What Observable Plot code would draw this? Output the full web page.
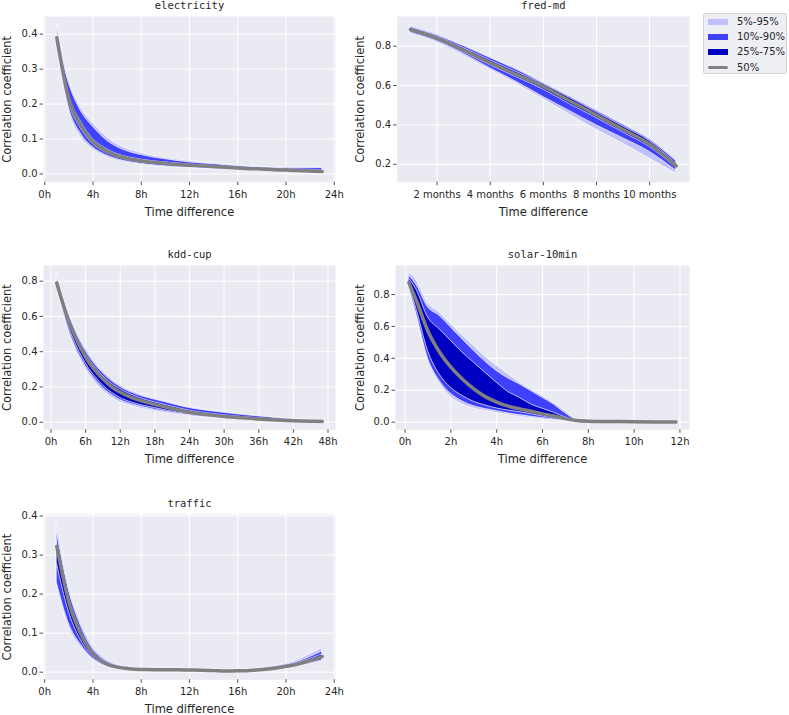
<!DOCTYPE html>
<html><head><meta charset="utf-8">
<script src="https://cdn.jsdelivr.net/npm/d3@7"></script>
<script src="https://cdn.jsdelivr.net/npm/@observablehq/plot@0.6"></script>
<style>
body{margin:0;background:#fff;}
#root{position:relative;width:789px;height:715px;overflow:hidden;font-family:"DejaVu Sans",sans-serif;}
#root svg{position:absolute;overflow:visible;}
#legend{position:absolute;left:703px;top:13px;width:84px;height:61px;background:#EEEEF5;border:1px solid #D6D6D6;border-radius:2px;box-sizing:border-box;}
.lrow{position:absolute;left:0;height:14px;width:84px;font-size:10px;color:#262626;}
.lsw{position:absolute;left:4px;width:20px;}
.ltx{position:absolute;left:33px;top:0;line-height:14px;}
</style></head><body><div id="root"><div id="legend"></div></div>
<script>
// ---------------- data ----------------
const bandLabels = ["5%-95%", "10%-90%", "25%-75%", "50%"];
const bandColors = ["#C0C0FF", "#4040FF", "#0000C0", "#808080"];

// electricity (hours)
const elecX   = [1,2,3,4,5,6,7,8,9,10,11,12,13,14,15,16,17,18,19,20,21,22,23];
const elecQ05 = [0.37,0.18,0.105,0.07,0.05,0.038,0.031,0.026,0.022,0.019,0.017,0.016,0.014,0.013,0.012,0.011,0.010,0.009,0.008,0.007,0.006,0.005,0.004];
const elecQ10 = [0.375,0.19,0.115,0.076,0.055,0.042,0.034,0.029,0.025,0.022,0.020,0.018,0.016,0.015,0.014,0.013,0.011,0.010,0.009,0.008,0.007,0.006,0.005];
const elecQ25 = [0.385,0.205,0.13,0.085,0.062,0.048,0.039,0.034,0.030,0.027,0.025,0.023,0.021,0.019,0.017,0.015,0.014,0.012,0.011,0.010,0.009,0.007,0.006];
const elecQ50 = [0.39,0.215,0.14,0.092,0.068,0.052,0.043,0.037,0.033,0.030,0.027,0.025,0.023,0.021,0.019,0.017,0.015,0.014,0.012,0.011,0.010,0.008,0.007];
const elecQ75 = [0.395,0.225,0.15,0.10,0.074,0.057,0.047,0.041,0.036,0.033,0.030,0.027,0.025,0.023,0.021,0.019,0.017,0.015,0.014,0.013,0.012,0.011,0.010];
const elecQ90 = [0.40,0.26,0.18,0.135,0.10,0.077,0.063,0.054,0.047,0.042,0.037,0.033,0.030,0.028,0.025,0.022,0.020,0.018,0.017,0.016,0.016,0.016,0.017];
const elecQ95 = [0.43,0.27,0.19,0.145,0.11,0.085,0.07,0.06,0.052,0.046,0.041,0.037,0.033,0.030,0.027,0.024,0.022,0.020,0.019,0.018,0.018,0.018,0.019];

// fred-md (months)
const fredX   = [1,2,3,4,5,6,7,8,9,10,11];
const fredQ05 = [0.862,0.818,0.752,0.68,0.608,0.53,0.452,0.375,0.305,0.229,0.152];
const fredQ10 = [0.87,0.825,0.762,0.688,0.618,0.542,0.47,0.398,0.332,0.263,0.168];
const fredQ25 = [0.878,0.832,0.77,0.703,0.642,0.58,0.505,0.435,0.362,0.288,0.182];
const fredQ50 = [0.885,0.84,0.78,0.715,0.655,0.595,0.522,0.45,0.377,0.302,0.192];
const fredQ75 = [0.89,0.848,0.79,0.728,0.668,0.607,0.537,0.465,0.392,0.318,0.20];
const fredQ90 = [0.897,0.855,0.80,0.74,0.68,0.612,0.543,0.472,0.40,0.325,0.215];
const fredQ95 = [0.905,0.862,0.806,0.745,0.685,0.618,0.548,0.478,0.406,0.332,0.225];

// kdd-cup (hours)
const kddX   = [1,2,3,4,5,6,7,8,9,10,11,12,14,16,18,20,22,24,27,30,33,36,39,42,45,47];
const kddQ05 = [0.77,0.635,0.52,0.43,0.36,0.30,0.252,0.212,0.18,0.152,0.13,0.113,0.09,0.074,0.061,0.051,0.042,0.034,0.025,0.018,0.013,0.009,0.006,0.003,0.002,0.001];
const kddQ10 = [0.775,0.645,0.53,0.445,0.375,0.318,0.27,0.23,0.196,0.167,0.145,0.126,0.102,0.085,0.071,0.059,0.049,0.04,0.029,0.021,0.016,0.011,0.007,0.004,0.003,0.002];
const kddQ25 = [0.78,0.66,0.55,0.465,0.395,0.335,0.285,0.245,0.21,0.18,0.158,0.138,0.112,0.094,0.08,0.067,0.055,0.045,0.033,0.025,0.018,0.013,0.009,0.006,0.004,0.003];
const kddQ50 = [0.79,0.68,0.58,0.50,0.43,0.37,0.32,0.28,0.245,0.215,0.19,0.17,0.14,0.118,0.10,0.085,0.07,0.056,0.043,0.033,0.025,0.018,0.013,0.009,0.006,0.004];
const kddQ75 = [0.80,0.695,0.595,0.515,0.447,0.387,0.337,0.297,0.262,0.232,0.207,0.187,0.155,0.13,0.112,0.096,0.08,0.065,0.05,0.039,0.03,0.022,0.016,0.011,0.007,0.005];
const kddQ90 = [0.81,0.71,0.615,0.535,0.465,0.405,0.355,0.313,0.278,0.248,0.222,0.20,0.168,0.145,0.128,0.112,0.095,0.08,0.065,0.053,0.042,0.033,0.024,0.016,0.01,0.007];
const kddQ95 = [0.845,0.725,0.63,0.55,0.48,0.42,0.37,0.325,0.29,0.26,0.232,0.21,0.177,0.152,0.134,0.118,0.1,0.085,0.07,0.057,0.046,0.036,0.027,0.019,0.012,0.009];

// solar-10min (hours)
const solarX   = [0.167,0.5,1,1.5,2,2.5,3,3.5,4,4.5,5,5.5,6,6.5,7,7.5,8,9,10,11,11.83];
const solarQ05 = [0.835,0.66,0.384,0.245,0.157,0.112,0.086,0.07,0.057,0.045,0.033,0.025,0.017,0.011,0.006,0.003,0.002,0.001,0.001,0.0,0.0];
const solarQ10 = [0.845,0.678,0.40,0.26,0.178,0.13,0.10,0.082,0.069,0.055,0.044,0.034,0.025,0.017,0.01,0.005,0.003,0.002,0.001,0.001,0.0];
const solarQ25 = [0.86,0.71,0.447,0.30,0.216,0.165,0.128,0.105,0.086,0.073,0.063,0.05,0.036,0.025,0.015,0.007,0.004,0.003,0.002,0.001,0.001];
const solarQ50 = [0.875,0.76,0.57,0.44,0.345,0.27,0.208,0.16,0.126,0.1,0.083,0.068,0.052,0.038,0.022,0.01,0.006,0.004,0.002,0.001,0.001];
const solarQ75 = [0.90,0.83,0.657,0.583,0.51,0.437,0.374,0.31,0.248,0.19,0.153,0.111,0.084,0.059,0.03,0.011,0.006,0.004,0.003,0.002,0.001];
const solarQ90 = [0.92,0.86,0.72,0.667,0.594,0.52,0.447,0.38,0.321,0.275,0.237,0.195,0.153,0.11,0.055,0.015,0.007,0.005,0.003,0.002,0.002];
const solarQ95 = [0.94,0.89,0.745,0.688,0.615,0.545,0.478,0.41,0.353,0.30,0.248,0.205,0.164,0.12,0.069,0.018,0.008,0.005,0.004,0.003,0.003];

// traffic (hours)
const trafX   = [1,2,3,4,5,6,7,8,9,10,11,12,13,14,15,16,17,18,19,20,21,22,23];
const trafQ05 = [0.22,0.115,0.064,0.032,0.015,0.008,0.006,0.0045,0.004,0.0035,0.0035,0.003,0.0025,0.0015,0.001,0.0015,0.0025,0.0045,0.007,0.01,0.014,0.02,0.027];
const trafQ10 = [0.23,0.125,0.07,0.035,0.017,0.009,0.007,0.005,0.0045,0.004,0.004,0.0035,0.003,0.002,0.0015,0.002,0.003,0.005,0.008,0.011,0.016,0.023,0.03];
const trafQ25 = [0.28,0.155,0.082,0.04,0.02,0.011,0.008,0.006,0.0055,0.005,0.005,0.0045,0.004,0.003,0.0025,0.003,0.004,0.006,0.009,0.013,0.019,0.027,0.036];
const trafQ50 = [0.322,0.18,0.097,0.047,0.023,0.013,0.009,0.007,0.0065,0.006,0.006,0.0055,0.005,0.004,0.003,0.0035,0.0045,0.007,0.01,0.015,0.021,0.03,0.04];
const trafQ75 = [0.335,0.19,0.105,0.052,0.026,0.015,0.01,0.008,0.0075,0.007,0.007,0.0065,0.006,0.005,0.004,0.0045,0.0055,0.008,0.011,0.017,0.024,0.034,0.045];
const trafQ90 = [0.36,0.21,0.118,0.058,0.03,0.017,0.012,0.009,0.0085,0.008,0.008,0.0075,0.007,0.006,0.005,0.0055,0.0065,0.009,0.013,0.019,0.027,0.039,0.053];
const trafQ95 = [0.385,0.22,0.128,0.065,0.035,0.02,0.014,0.011,0.01,0.0095,0.009,0.0085,0.008,0.007,0.006,0.0065,0.0075,0.01,0.015,0.022,0.032,0.046,0.062];

// tick labels
const hourTicks24 = [0,4,8,12,16,20,24];
const hourTicks48 = [0,6,12,18,24,30,36,42,48];
const hourTicks12 = [0,2,4,6,8,10,12];
const monthTicks  = [2,4,6,8,10];
const yTicks04 = [0,0.1,0.2,0.3,0.4];
const yTicks08 = [0,0.2,0.4,0.6,0.8];
const yTicksFred = [0.2,0.4,0.6,0.8];

// ---------------- drawing ----------------
function table(xs, q05, q10, q25, q50, q75, q90, q95) {
  return xs.map((x, i) => ({x, q05: q05[i], q10: q10[i], q25: q25[i], q50: q50[i], q75: q75[i], q90: q90[i], q95: q95[i]}));
}
const curve = "monotone-x";
const fmtY = d3.format(".1f");
const root = document.getElementById("root");

function panel(cfg) {
  const [fx0, fy0, fx1, fy1] = cfg.frame;
  const mR = 14, mB = 42;
  const width = fx1 - cfg.left + mR, height = fy1 - cfg.top + mB;
  const data = cfg.data;
  const svg = Plot.plot({
    width, height,
    marginLeft: fx0 - cfg.left, marginTop: fy0 - cfg.top, marginRight: mR, marginBottom: mB,
    style: {background: "none", overflow: "visible", fontFamily: "DejaVu Sans", fontSize: "10px", color: "#262626"},
    x: {domain: cfg.xDomain},
    y: {domain: cfg.yDomain},
    marks: [
      Plot.frame({fill: "#EAEAF2", stroke: null}),
      Plot.gridX(cfg.xTicks, {stroke: "white", strokeOpacity: 1, strokeWidth: 1}),
      Plot.gridY(cfg.yTicks, {stroke: "white", strokeOpacity: 1, strokeWidth: 1}),
      Plot.areaY(data, {x: "x", y1: "q05", y2: "q95", fill: bandColors[0], stroke: "white", strokeWidth: 0.7, curve}),
      Plot.areaY(data, {x: "x", y1: "q10", y2: "q90", fill: bandColors[1], stroke: "white", strokeWidth: 0.7, curve}),
      Plot.areaY(data, {x: "x", y1: "q25", y2: "q75", fill: bandColors[2], stroke: "white", strokeWidth: 0.7, curve}),
      Plot.lineY(data, {x: "x", y: "q50", stroke: bandColors[3], strokeWidth: 3.5, curve}),
      Plot.axisX(cfg.xTicks, {anchor: "bottom", tickFormat: cfg.xFmt, tickSize: 3.5, tickPadding: 5, stroke: "#262626", strokeWidth: 0.8, label: null}),
      Plot.axisY(cfg.yTicks, {anchor: "left", tickFormat: fmtY, tickSize: 3.5, tickPadding: 2.5, stroke: "#262626", strokeWidth: 0.8, label: null}),
      Plot.text([cfg.title], {frameAnchor: "top", lineAnchor: "bottom", dy: -7.5, fontFamily: "DejaVu Sans Mono", fontSize: 10.5, fill: "#262626"}),
      Plot.text(["Time difference"], {frameAnchor: "bottom", lineAnchor: "bottom", dy: 33.5, fontSize: 11.5, fill: "#262626"}),
      Plot.text(["Correlation coefficient"], {frameAnchor: "left", textAnchor: "middle", lineAnchor: "middle", rotate: -90, dx: -(fx0 - cfg.left) + cfg.yLabelX, fontSize: 11.5, fill: "#262626"})
    ]
  });
  svg.style.left = cfg.left + "px";
  svg.style.top = cfg.top + "px";
  root.appendChild(svg);
}

panel({title: "electricity", left: 0, top: 0, frame: [43, 16, 335, 181.7],
  data: table(elecX, elecQ05, elecQ10, elecQ25, elecQ50, elecQ75, elecQ90, elecQ95),
  xDomain: [-0.1, 24.1], xTicks: hourTicks24, xFmt: d => d + "h",
  yDomain: [-0.0237, 0.4506], yTicks: yTicks04, yLabelX: 7});
panel({title: "fred-md", left: 350, top: 0, frame: [396.7, 16, 689, 181.7],
  data: table(fredX, fredQ05, fredQ10, fredQ25, fredQ50, fredQ75, fredQ90, fredQ95),
  xDomain: [0.5, 11.5], xTicks: monthTicks, xFmt: d => d + " months",
  yDomain: [0.109, 0.951], yTicks: yTicksFred, yLabelX: 10});
panel({title: "kdd-cup", left: 0, top: 240, frame: [43, 265, 335, 429.3],
  data: table(kddX, kddQ05, kddQ10, kddQ25, kddQ50, kddQ75, kddQ90, kddQ95),
  xDomain: [-1.3, 49.3], xTicks: hourTicks48, xFmt: d => d + "h",
  yDomain: [-0.043, 0.889], yTicks: yTicks08, yLabelX: 7});
panel({title: "solar-10min", left: 350, top: 240, frame: [395, 265, 689, 429.3],
  data: table(solarX, solarQ05, solarQ10, solarQ25, solarQ50, solarQ75, solarQ90, solarQ95),
  xDomain: [-0.417, 12.417], xTicks: hourTicks12, xFmt: d => d + "h",
  yDomain: [-0.048, 0.982], yTicks: yTicks08, yLabelX: 10});
panel({title: "traffic", left: 0, top: 490, frame: [43, 514, 335, 679.3],
  data: table(trafX, trafQ05, trafQ10, trafQ25, trafQ50, trafQ75, trafQ90, trafQ95),
  xDomain: [-0.1, 24.1], xTicks: hourTicks24, xFmt: d => d + "h",
  yDomain: [-0.0195, 0.404], yTicks: yTicks04, yLabelX: 7});

// legend
const legend = document.getElementById("legend");
bandLabels.forEach((lab, i) => {
  const row = document.createElement("div");
  row.className = "lrow";
  row.style.top = (1 + i * 15.2) + "px";
  const sw = document.createElement("div");
  sw.className = "lsw";
  if (i < 3) { sw.style.top = "4px"; sw.style.height = "6px"; sw.style.background = bandColors[i]; }
  else { sw.style.top = "5.5px"; sw.style.height = "3px"; sw.style.background = bandColors[i]; sw.style.borderRadius = "1.5px"; }
  const tx = document.createElement("div");
  tx.className = "ltx";
  tx.textContent = lab;
  row.appendChild(sw); row.appendChild(tx);
  legend.appendChild(row);
});
</script></body></html>
